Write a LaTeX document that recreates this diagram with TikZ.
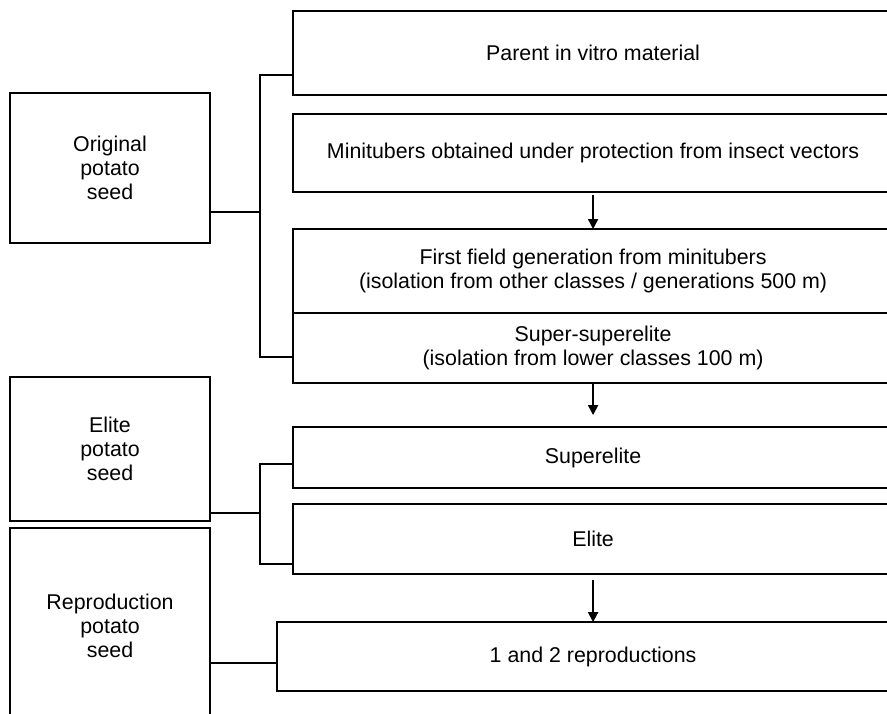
\documentclass[tikz,border=0pt]{standalone}
\usepackage{fontspec}
\setmainfont{Liberation Sans}
\usetikzlibrary{arrows.meta, positioning}

\tikzset{
  seed/.style={draw, line width=1.3pt, align=center, minimum width=5cm, inner sep=0pt, outer sep=0pt, font=\fontsize{15.2}{17}\selectfont},
  stage/.style={draw, line width=1.3pt, align=center, minimum width=15cm, inner sep=0pt, outer sep=0pt, font=\fontsize{15.2}{17}\selectfont},
  link/.style={line width=1.3pt},
  flow/.style={line width=1.3pt, -{Triangle[length=0.25cm, width=0.25cm]}}
}

\begin{document}
\begin{tikzpicture}[x=0.025cm, y=0.025cm]
\useasboundingbox (0,0) rectangle (887,-714);
\clip (0,0) rectangle (887,-714);

% Seed categories (left column)
\node[seed, anchor=north west, minimum height=3.75cm] (orig) at (10,-93) {Original\\potato\\seed};
\node[seed, anchor=north west, minimum height=3.6cm] (eseed) at (10,-377) {Elite\\potato\\seed};
\node[seed, below=0.175cm of eseed, minimum height=4.9cm] (rseed) {Reproduction\\potato\\seed};

% Stages (right column, running off the page)
\node[stage, anchor=north west, minimum height=2.1cm] (parent) at (293,-11) {Parent in vitro material};
\node[stage, below=0.475cm of parent, minimum height=1.95cm] (minitub) {Minitubers obtained under protection from insect vectors};
\node[stage, below=0.925cm of minitub, minimum height=2.1cm] (first) {First field generation from minitubers\\(isolation from other classes / generations 500 m)};
\node[stage, below=0cm of first, minimum height=1.75cm] (ssuper) {Super-superelite\\(isolation from lower classes 100 m)};
\node[stage, below=1.1cm of ssuper, minimum height=1.525cm] (superel) {Superelite};
\node[stage, below=0.4cm of superel, minimum height=1.75cm] (elite) {Elite};
\node[stage, below=1.2cm of elite, minimum width=15.8cm, minimum height=1.725cm] (repro) {1 and 2 reproductions};

% Flow between stages
\draw[flow] ([yshift=-0.075cm]minitub.south) -- (first.north);
\draw[flow] (ssuper.south) -- ([yshift=0.3cm]superel.north);
\draw[flow] ([yshift=-0.15cm]elite.south) -- (repro.north);

% Brackets from categories to stages
\draw[link] ([yshift=0.5cm]parent.south west) -- ++(-33,0) |- ([yshift=0.65cm]ssuper.south west);
\draw[link] ([yshift=0.775cm]orig.south east) -- ++(50,0);
\draw[link] ([yshift=0.6cm]superel.south west) -- ++(-33,0) |- ([yshift=0.25cm]elite.south west);
\draw[link] ([yshift=0.2cm]eseed.south east) -- ++(50,0);
\coordinate (rjoin) at ([yshift=1.525cm]rseed.south east);
\draw[link] (rjoin) -- (rjoin -| repro.west);
\end{tikzpicture}
\end{document}
